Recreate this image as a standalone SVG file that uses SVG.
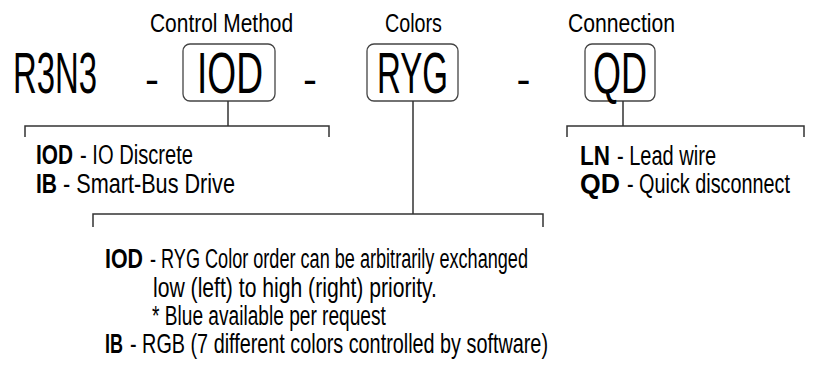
<svg xmlns="http://www.w3.org/2000/svg" width="816" height="369" viewBox="0 0 816 369">
<style>
text{font-family:"Liberation Sans",Arial,sans-serif;fill:#000}
.hd{font-size:25px}
.big{font-size:58px}
.dash{font-size:42px}
.d{font-size:28px}
.b{font-weight:bold}
.box{fill:#fff;stroke:#444;stroke-width:1.3}
.ln{fill:none;stroke:#333;stroke-width:1.5}
</style>
<rect width="816" height="369" fill="#fff"/>
<g id="header">
<text class="hd" transform="translate(150 32) scale(0.837 1)" textLength="170.9" lengthAdjust="spacingAndGlyphs">Control Method</text>
<text class="hd" transform="translate(385 32) scale(0.789 1)" textLength="72.2" lengthAdjust="spacingAndGlyphs">Colors</text>
<text class="hd" transform="translate(568 32) scale(0.846 1)" textLength="126.5" lengthAdjust="spacingAndGlyphs">Connection</text>
</g>
<g id="code">
<text class="big" transform="translate(13 93) scale(0.567 1)" textLength="148.2" lengthAdjust="spacingAndGlyphs">R3N3</text>
<text class="dash" x="145.1" y="93.5">-</text>
<text class="dash" x="303.1" y="93.5">-</text>
<text class="dash" x="516.5" y="93.5">-</text>
</g>
<g id="node-iod">
<rect class="box" x="183" y="44" width="92" height="57" rx="7"/>
<text class="big" transform="translate(197 93) scale(0.64 1)" textLength="103.1" lengthAdjust="spacingAndGlyphs">IOD</text>
</g>
<g id="node-ryg">
<rect class="box" x="367" y="44" width="91" height="57" rx="7"/>
<text class="big" transform="translate(377 93) scale(0.565 1)" textLength="125.7" lengthAdjust="spacingAndGlyphs">RYG</text>
</g>
<g id="node-qd">
<rect class="box" x="585" y="44" width="70" height="57" rx="7"/>
<text class="big" transform="translate(593 93) scale(0.621 1)" textLength="87" lengthAdjust="spacingAndGlyphs">QD</text>
</g>
<g id="connectors">
<path class="ln" d="M228 101V126M25 137V126H329V137"/>
<path class="ln" d="M413 101V214M93 227V214H543V227"/>
<path class="ln" d="M623 101V126M567 137V126H804V137"/>
</g>
<g id="desc-control">
<text class="d b" transform="translate(36 164) scale(0.743 1)" textLength="49.8" lengthAdjust="spacingAndGlyphs">IOD</text>
<text class="d" transform="translate(80 164) scale(0.719 1)" textLength="157.1" lengthAdjust="spacingAndGlyphs">- IO Discrete</text>
<text class="d b" transform="translate(36 193) scale(0.75 1)" textLength="28" lengthAdjust="spacingAndGlyphs">IB</text>
<text class="d" transform="translate(63 193) scale(0.773 1)" textLength="222.5" lengthAdjust="spacingAndGlyphs">- Smart-Bus Drive</text>
</g>
<g id="desc-connection">
<text class="d b" transform="translate(580 165) scale(0.804 1)" textLength="37.3" lengthAdjust="spacingAndGlyphs">LN</text>
<text class="d" transform="translate(617 165) scale(0.715 1)" textLength="138.5" lengthAdjust="spacingAndGlyphs">- Lead wire</text>
<text class="d b" transform="translate(580 193) scale(0.952 1)" textLength="42" lengthAdjust="spacingAndGlyphs">QD</text>
<text class="d" transform="translate(627 193) scale(0.708 1)" textLength="230.3" lengthAdjust="spacingAndGlyphs">- Quick disconnect</text>
</g>
<g id="desc-colors">
<text class="d b" transform="translate(105 268) scale(0.763 1)" textLength="49.8" lengthAdjust="spacingAndGlyphs">IOD</text>
<text class="d" transform="translate(150 268) scale(0.646 1)" textLength="585.1" lengthAdjust="spacingAndGlyphs">- RYG Color order can be arbitrarily exchanged</text>
<text class="d" transform="translate(153 297) scale(0.751 1)" textLength="378.1" lengthAdjust="spacingAndGlyphs">low (left) to high (right) priority.</text>
<text class="d" transform="translate(152 325) scale(0.683 1)" textLength="342.4" lengthAdjust="spacingAndGlyphs">* Blue available per request</text>
<text class="d b" transform="translate(105 353) scale(0.643 1)" textLength="28" lengthAdjust="spacingAndGlyphs">IB</text>
<text class="d" transform="translate(130 353) scale(0.707 1)" textLength="591.2" lengthAdjust="spacingAndGlyphs">- RGB (7 different colors controlled by software)</text>
</g>
</svg>
